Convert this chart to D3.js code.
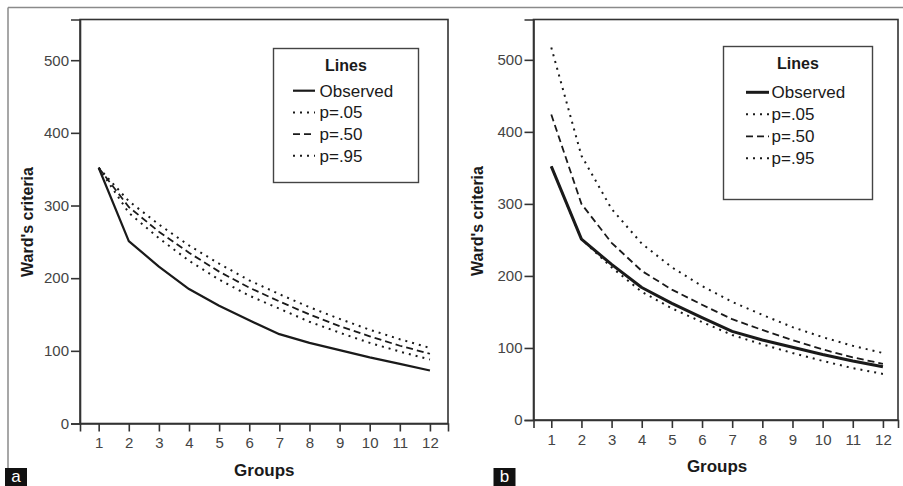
<!DOCTYPE html>
<html>
<head>
<meta charset="utf-8">
<script src="https://cdn.jsdelivr.net/npm/d3@7"></script>
<style>
  html, body { margin: 0; padding: 0; background: #fff; }
  svg { display: block; font-family: "Liberation Sans", Arial, sans-serif; }
</style>
</head>
<body>
<svg id="chart" width="903" height="486"></svg>
<script>
// ---- data ----
const groups = [1, 2, 3, 4, 5, 6, 7, 8, 9, 10, 11, 12];
const yTicks = [0, 100, 200, 300, 400, 500];
const legendLabels = ["Observed", "p=.05", "p=.50", "p=.95"];

// Panel a
const observedA = [352, 251, 216, 185, 162, 142, 123, 111, 101, 91, 82, 73];
const p05A      = [352, 290, 255, 224, 198, 176, 158, 140, 125, 111, 99, 88];
const p50A      = [352, 298, 264, 235, 209, 187, 168, 150, 134, 120, 107, 96];
const p95A      = [352, 306, 274, 245, 220, 197, 178, 160, 144, 129, 116, 104];

// Panel b
const observedB = [352, 251, 216, 184, 162, 142, 123, 111, 101, 91, 82, 74];
const p05B      = [352, 251, 212, 178, 155, 136, 118, 105, 93, 82, 72, 64];
const p50B      = [424, 300, 246, 207, 181, 160, 140, 125, 111, 98, 87, 78];
const p95B      = [517, 367, 293, 245, 212, 186, 164, 146, 129, 115, 103, 93];

// ---- drawing ----
const svg = d3.select("#chart");
const ink = "#1a1a1a";

// outer frame
svg.append("line").attr("x1", 8).attr("x2", 903).attr("y1", 7.5).attr("y2", 7.5)
  .attr("stroke", "#8a8a8a").attr("stroke-width", 1.5);
svg.append("line").attr("x1", 8).attr("x2", 8).attr("y1", 7.5).attr("y2", 470)
  .attr("stroke", "#8a8a8a").attr("stroke-width", 1.5);

const styles = [
  { dash: null, width: 2.2 },      // Observed
  { dash: "2,5", width: 2 },       // p=.05
  { dash: "7,4", width: 1.8 },     // p=.50
  { dash: "2,5", width: 2 }        // p=.95
];

function panel(cfg) {
  const g = svg.append("g");
  const x = d3.scaleLinear().domain(cfg.xDomain).range([cfg.left, cfg.right]);
  const y = d3.scaleLinear().domain([0, 556]).range([cfg.bottom, cfg.top]);

  // plot box
  g.append("rect")
    .attr("x", cfg.left).attr("y", cfg.top)
    .attr("width", cfg.right - cfg.left).attr("height", cfg.bottom - cfg.top)
    .attr("fill", "none").attr("stroke", "#333").attr("stroke-width", 1.6);

  // y axis
  const ya = g.append("g").attr("transform", `translate(${cfg.left},0)`)
    .call(d3.axisLeft(y).tickValues(yTicks).tickSize(9).tickPadding(2).tickFormat(d3.format("d")));
  ya.select(".domain").attr("stroke", "#333").attr("stroke-width", 1.6);
  ya.selectAll(".tick line").attr("stroke", "#333").attr("stroke-width", 1.6);
  ya.selectAll(".tick text").attr("font-size", 15).attr("fill", "#444")
    .attr("font-family", "Liberation Sans, Arial, sans-serif");

  // x axis
  const xa = g.append("g").attr("transform", `translate(0,${cfg.bottom})`)
    .call(d3.axisBottom(x).tickValues(groups).tickSize(8).tickPadding(6).tickFormat(d3.format("d")));
  xa.select(".domain").attr("stroke", "#333").attr("stroke-width", 1.6);
  xa.selectAll(".tick line").attr("stroke", "#333").attr("stroke-width", 1.6);
  xa.selectAll(".tick text").attr("font-size", 15).attr("fill", "#444")
    .attr("font-family", "Liberation Sans, Arial, sans-serif");

  // axis titles
  g.append("text").attr("x", (x(1) + x(12)) / 2).attr("y", cfg.bottom + 52)
    .attr("text-anchor", "middle").attr("font-size", 17).attr("font-weight", "bold")
    .attr("fill", ink).text("Groups");
  g.append("text")
    .attr("transform", `translate(${cfg.yTitleX},${cfg.yTitleY}) rotate(-90)`)
    .attr("text-anchor", "middle").attr("font-size", 16).attr("font-weight", "bold")
    .attr("fill", ink).text("Ward's criteria");

  // lines
  const line = d3.line().x((d, i) => x(groups[i])).y(d => y(d));
  const series = [cfg.observed, cfg.p05, cfg.p50, cfg.p95];
  [3, 2, 1, 0].forEach(k => {
    const st = styles[k];
    g.append("path").datum(series[k])
      .attr("d", line).attr("fill", "none").attr("stroke", ink)
      .attr("stroke-width", k === 0 ? cfg.obsWidth : st.width)
      .attr("stroke-dasharray", st.dash)
      .attr("stroke-linejoin", "round");
  });

  // legend
  const L = cfg.legend;
  g.append("rect").attr("x", L.x).attr("y", L.y).attr("width", L.w).attr("height", L.h)
    .attr("fill", "#fff").attr("stroke", "#444").attr("stroke-width", 1.4);
  g.append("text").attr("x", L.x + L.w / 2).attr("y", L.titleY)
    .attr("text-anchor", "middle").attr("font-size", 16).attr("font-weight", "bold")
    .attr("fill", ink).text("Lines");
  legendLabels.forEach((lab, i) => {
    const by = L.firstY + i * L.step;
    g.append("line").attr("x1", L.sx1).attr("x2", L.sx2)
      .attr("y1", by - 6).attr("y2", by - 6)
      .attr("stroke", ink)
      .attr("stroke-width", i === 0 ? cfg.obsWidth : styles[i].width)
      .attr("stroke-dasharray", styles[i].dash);
    g.append("text").attr("x", L.tx).attr("y", by)
      .attr("font-size", 17).attr("fill", ink).text(lab);
  });

  // panel letter
  g.append("rect").attr("x", cfg.letterX).attr("y", 468).attr("width", 22).attr("height", 18)
    .attr("fill", "#111");
  g.append("text").attr("x", cfg.letterX + 11).attr("y", 482)
    .attr("text-anchor", "middle").attr("font-size", 17).attr("fill", "#fff").text(cfg.letter);
}

panel({
  left: 80, right: 448, top: 19.5, bottom: 423.5,
  xDomain: [0.38, 12.6],
  observed: observedA, p05: p05A, p50: p50A, p95: p95A,
  obsWidth: 2.2,
  yTitleX: 33, yTitleY: 222,
  legend: { x: 273.5, y: 48.5, w: 145, h: 134, titleY: 70.5, firstY: 96.7, step: 21.7,
            sx1: 293, sx2: 315, tx: 319.5 },
  letter: "a", letterX: 5
});

panel({
  left: 533.5, right: 898, top: 19.5, bottom: 420,
  xDomain: [0.41, 12.5],
  observed: observedB, p05: p05B, p50: p50B, p95: p95B,
  obsWidth: 3,
  yTitleX: 483, yTitleY: 221,
  legend: { x: 723.5, y: 46.5, w: 149, h: 153, titleY: 69, firstY: 98.3, step: 22,
            sx1: 746, sx2: 769, tx: 771.5 },
  letter: "b", letterX: 493.5
});
</script>
</body>
</html>
